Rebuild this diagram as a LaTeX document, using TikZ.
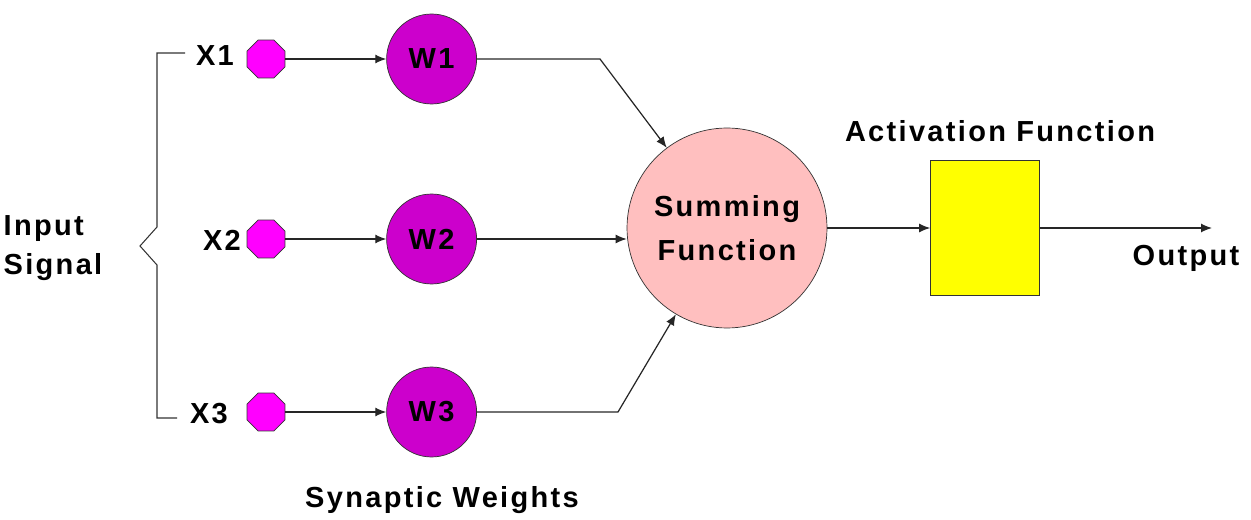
\documentclass[tikz,border=0pt]{standalone}
\usepackage{fontspec}
\setmainfont{Liberation Sans}[LetterSpace=8]
\usepackage{tikz}
\usetikzlibrary{arrows.meta,positioning,shapes.geometric}

\definecolor{inmag}{HTML}{FF00FF}
\definecolor{wmag}{HTML}{CC00CC}
\definecolor{sumpink}{HTML}{FFBFBF}
\definecolor{actyel}{HTML}{FFFF00}

\begin{document}
\begin{tikzpicture}[
          x=0.02cm, y=-0.02cm,
          font=\fontsize{16.5}{22}\selectfont\bfseries,
          inp/.style={regular polygon, regular polygon sides=8, draw=black!80,
                      fill=inmag, minimum size=0.82cm, inner sep=0pt},
          wt/.style={circle, draw=black!80, fill=wmag, minimum size=1.8cm, inner sep=0pt},
          summ/.style={circle, draw=black!80, fill=sumpink, minimum size=4cm,
                       align=center, inner sep=0pt},
          actbox/.style={rectangle, draw=black!80, fill=actyel,
                         minimum width=2.18cm, minimum height=2.7cm},
          lbl/.style={inner sep=0pt, align=left},
          fl/.style={-{Latex[length=2.2mm,width=1.8mm]}, draw=black!85, line width=0.7pt}
        ]
        \useasboundingbox (0,0) rectangle (1251,520);
        % inputs and weights
        \node[inp] (x1) at (266,59) {};
        \node[inp] (x2) at (266,239) {};
        \node[inp] (x3) at (266,412) {};
        \node[wt, right=2.02cm of x1] (w1) {W1};
        \node[wt, right=2.02cm of x2] (w2) {W2};
        \node[wt, right=2.02cm of x3] (w3) {W3};
        \node[lbl] (lx1) at (215,56) {X1};
        \node[lbl] (lx2) at (222,240) {X2};
        \node[lbl] (lx3) at (209,414) {X3};
        \node[lbl] (insig) at (53,248) {Input\\Signal};
        \node[lbl] (synw) at (442,500) {Synaptic Weights};
        % summing and activation
        \node[summ] (sum) at (727,228) {Summing\\[3pt]Function};
        \node[actbox] (act) at (985,228) {};
        \node[lbl] (actlbl) at (1000,131) {Activation Function};
        \node[lbl] (outlbl) at (1186,258) {Output};
        \coordinate (k1) at (600,59);
        \coordinate (k3) at (618,412);
        \coordinate (out) at (1212,228);
        % bracket
        \draw[black!80, line width=0.6pt] (185,53) -- (157,53) -- (157,227) -- (140,246)
              -- (157,265) -- (157,418) -- (177,418);
        % connectors
        \draw[fl] (x1) -- (w1);
        \draw[fl] (x2) -- (w2);
        \draw[fl] (x3) -- (w3);
        \draw[fl] (w1) -- (k1) -- (sum);
        \draw[fl] (w2) -- (sum.west |- w2);
        \draw[fl] (w3) -- (k3) -- (sum);
        \draw[fl] (sum) -- (act);
        \draw[fl] (act) -- (out);
      \end{tikzpicture}
\end{document}
